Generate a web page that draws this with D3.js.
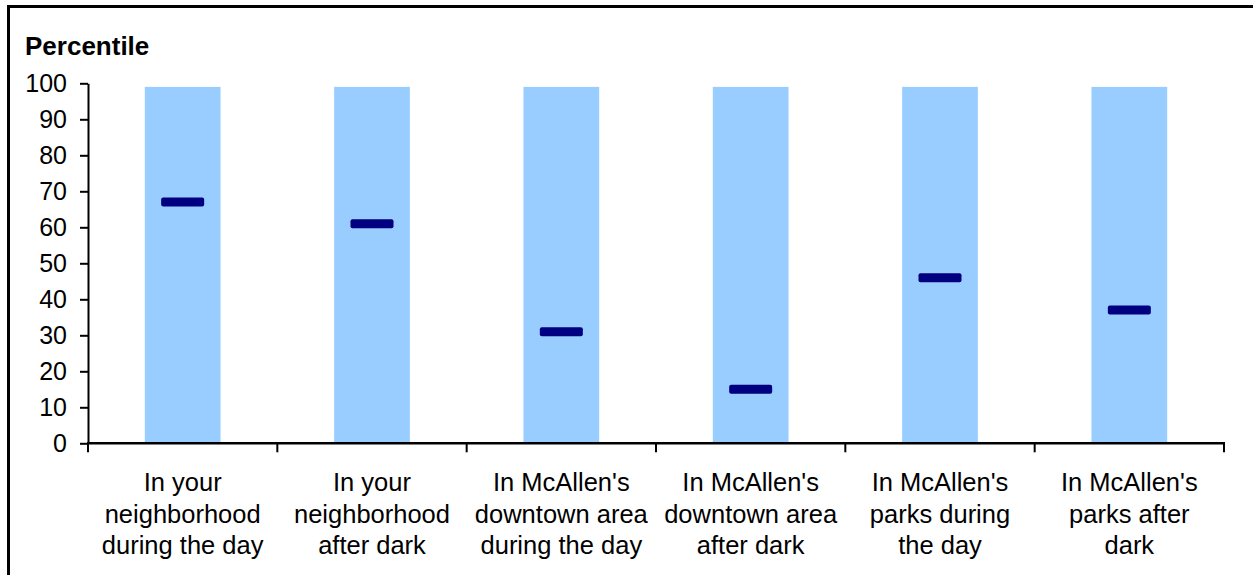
<!DOCTYPE html>
<html>
<head>
<meta charset="utf-8">
<script src="https://cdn.jsdelivr.net/npm/d3@7"></script>
<style>
  html, body { margin: 0; padding: 0; background: #fff; }
  svg { display: block; font-family: Arial, "Liberation Sans", sans-serif; }
</style>
</head>
<body>
<svg id="chart" width="1253" height="575"></svg>
<script>
const categories = [
  ["In your", "neighborhood", "during the day"],
  ["In your", "neighborhood", "after dark"],
  ["In McAllen's", "downtown area", "during the day"],
  ["In McAllen's", "downtown area", "after dark"],
  ["In McAllen's", "parks during", "the day"],
  ["In McAllen's", "parks after", "dark"]
];
const rangeLow = [0, 0, 0, 0, 0, 0];
const rangeHigh = [99, 99, 99, 99, 99, 99];
const percentiles = [67, 61, 31, 15, 46, 37];
const yTicks = [0, 10, 20, 30, 40, 50, 60, 70, 80, 90, 100];
const yTitle = "Percentile";

const svg = d3.select("#chart");
const W = 1253, H = 575;
const m = { left: 88, right: 1224, top: 83.3, bottom: 443.3 };

// chart frame (only left and top visible in view)
svg.append("rect")
  .attr("x", 8.5).attr("y", 6.5)
  .attr("width", W + 20).attr("height", H + 20)
  .attr("fill", "none").attr("stroke", "#000").attr("stroke-width", 3);

const ids = categories.map((d, i) => i);
const x = d3.scaleBand().domain(ids).range([m.left, m.right]).paddingInner(0).paddingOuter(0);
const y = d3.scaleLinear().domain([0, 100]).range([m.bottom, m.top]);

const barW = x.bandwidth() * 0.4;

// range bars
svg.append("g").selectAll("rect")
  .data(ids)
  .join("rect")
  .attr("x", i => x(i) + (x.bandwidth() - barW) / 2)
  .attr("width", barW)
  .attr("y", i => y(rangeHigh[i]))
  .attr("height", i => y(rangeLow[i]) - y(rangeHigh[i]))
  .attr("fill", "#99CCFF");

// markers
const mkW = 43, mkH = 9;
svg.append("g").selectAll("rect")
  .data(ids)
  .join("rect")
  .attr("x", i => x(i) + x.bandwidth() / 2 - mkW / 2)
  .attr("y", i => y(percentiles[i]) - mkH / 2)
  .attr("width", mkW)
  .attr("height", mkH)
  .attr("rx", 2)
  .attr("fill", "#000080");

// y axis
const yAxis = svg.append("g")
  .attr("transform", `translate(${m.left},0)`)
  .call(d3.axisLeft(y).tickValues(yTicks).tickSize(8).tickPadding(13).tickSizeOuter(0));
yAxis.select(".domain").attr("stroke", "#000").attr("stroke-width", 2);
yAxis.selectAll(".tick line").attr("stroke", "#000").attr("stroke-width", 2);
yAxis.selectAll(".tick text")
  .attr("font-size", 25).attr("fill", "#000")
  .attr("font-family", "Arial, 'Liberation Sans', sans-serif");

// x axis baseline with boundary ticks
const boundaries = ids.concat([ids.length]);
svg.append("line")
  .attr("x1", m.left - 1).attr("x2", m.right + 1)
  .attr("y1", y(0)).attr("y2", y(0))
  .attr("stroke", "#000").attr("stroke-width", 2.5);
svg.append("g").selectAll("line")
  .data(boundaries)
  .join("line")
  .attr("x1", i => (i < ids.length ? x(i) : x(ids.length - 1) + x.bandwidth()))
  .attr("x2", i => (i < ids.length ? x(i) : x(ids.length - 1) + x.bandwidth()))
  .attr("y1", y(0)).attr("y2", y(0) + 9)
  .attr("stroke", "#000").attr("stroke-width", 2);

// category labels
const lab = svg.append("g").selectAll("text")
  .data(ids)
  .join("text")
  .attr("x", i => x(i) + x.bandwidth() / 2)
  .attr("y", 491)
  .attr("text-anchor", "middle")
  .attr("font-size", 25.5)
  .attr("fill", "#000");
lab.selectAll("tspan")
  .data(i => categories[i].map((t, k) => ({ t, k, i })))
  .join("tspan")
  .attr("x", d => x(d.i) + x.bandwidth() / 2)
  .attr("dy", d => (d.k === 0 ? 0 : 31.7))
  .text(d => d.t);

// y title
svg.append("text")
  .attr("x", 25).attr("y", 55)
  .attr("font-size", 26).attr("font-weight", "bold")
  .attr("fill", "#000")
  .text(yTitle);
</script>
</body>
</html>
